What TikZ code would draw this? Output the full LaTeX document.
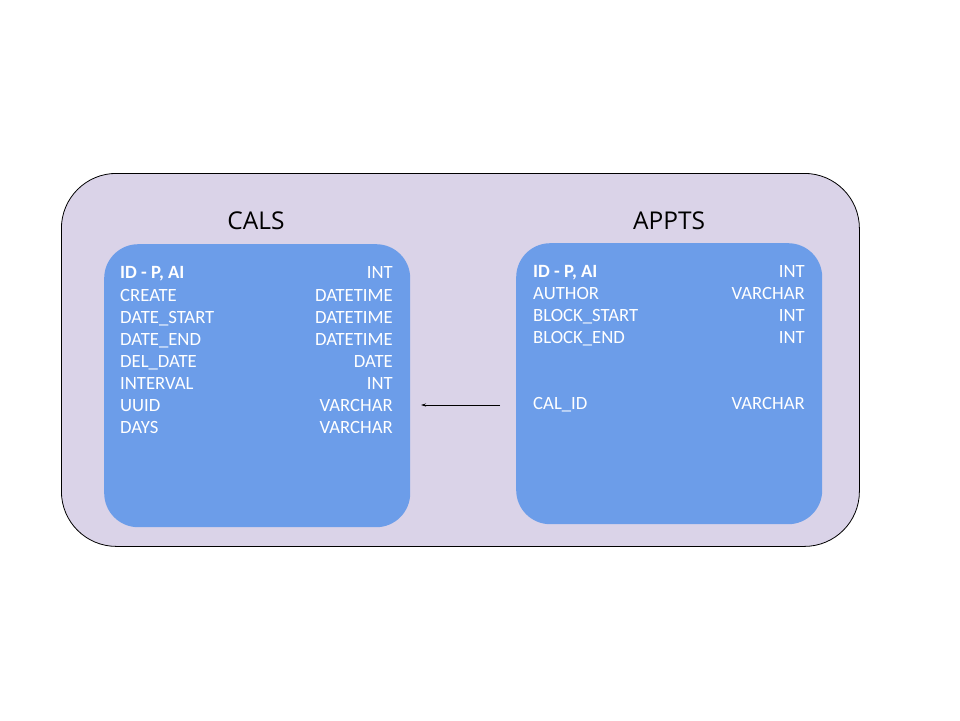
\documentclass[tikz,border=0pt]{standalone}
\usepackage{fontspec}
\setmainfont{Carlito}
\newfontfamily\titlefont{Open Sans}
\usetikzlibrary{arrows.meta}
\definecolor{outerfill}{HTML}{DAD3E8}
\definecolor{boxfill}{HTML}{6C9DE9}
\tikzset{
  outerbox/.style={draw=black, line width=0.8pt, fill=outerfill, rounded corners=55pt},
  tablebox/.style={fill=boxfill, rounded corners=34pt},
  tabletitle/.style={font=\titlefont\fontsize{24.5}{28}\selectfont, text=black},
  fieldl/.style={anchor=base west, text=white, font=\fontsize{18.7}{21}\selectfont, inner sep=0pt},
  fieldr/.style={anchor=base east, text=white, font=\fontsize{18.7}{21}\selectfont, inner sep=0pt},
  fk/.style={-{Stealth[length=5pt,width=3pt]}, line width=0.7pt, black}
}
\begin{document}
\begin{tikzpicture}[x=1pt,y=-1pt]
\useasboundingbox (0,0) rectangle (960,720);
% outer container
\node[outerbox, minimum width=798pt, minimum height=373pt, anchor=north west, inner sep=0pt] (outer) at (61,173) {};
% table boxes
\node[tablebox, minimum width=306pt, minimum height=283pt, anchor=north west, inner sep=0pt] (cals) at (104,244) {};
\node[tablebox, minimum width=306pt, minimum height=281pt, anchor=north west, inner sep=0pt] (appts) at (516,243) {};
% titles
\node[tabletitle] (calstitle) at (256,221) {CALS};
\node[tabletitle] (apptstitle) at (669,221) {APPTS};
% CALS fields
\node[fieldl] (c1l) at (120,278) {\textbf{ID - P, AI}};
\node[fieldr] (c1r) at (393,278) {INT};
\node[fieldl] (c2l) at (120,301) {CREATE};
\node[fieldr] (c2r) at (393,301) {DATETIME};
\node[fieldl] (c3l) at (120,323) {DATE\_START};
\node[fieldr] (c3r) at (393,323) {DATETIME};
\node[fieldl] (c4l) at (120,345) {DATE\_END};
\node[fieldr] (c4r) at (393,345) {DATETIME};
\node[fieldl] (c5l) at (120,367) {DEL\_DATE};
\node[fieldr] (c5r) at (393,367) {DATE};
\node[fieldl] (c6l) at (120,389) {INTERVAL};
\node[fieldr] (c6r) at (393,389) {INT};
\node[fieldl] (c7l) at (120,411) {UUID};
\node[fieldr] (c7r) at (393,411) {VARCHAR};
\node[fieldl] (c8l) at (120,433) {DAYS};
\node[fieldr] (c8r) at (393,433) {VARCHAR};
% APPTS fields
\node[fieldl] (a1l) at (533,277) {\textbf{ID - P, AI}};
\node[fieldr] (a1r) at (805,277) {INT};
\node[fieldl] (a2l) at (533,299) {AUTHOR};
\node[fieldr] (a2r) at (805,299) {VARCHAR};
\node[fieldl] (a3l) at (533,321) {BLOCK\_START};
\node[fieldr] (a3r) at (805,321) {INT};
\node[fieldl] (a4l) at (533,343) {BLOCK\_END};
\node[fieldr] (a4r) at (805,343) {INT};
\node[fieldl] (a5l) at (533,409) {CAL\_ID};
\node[fieldr] (a5r) at (805,409) {VARCHAR};
% foreign key arrow
\coordinate (fkstart) at (500,405);
\coordinate (fkend) at (421,405);
\draw[fk] (fkstart) -- (fkend);
\end{tikzpicture}
\end{document}
